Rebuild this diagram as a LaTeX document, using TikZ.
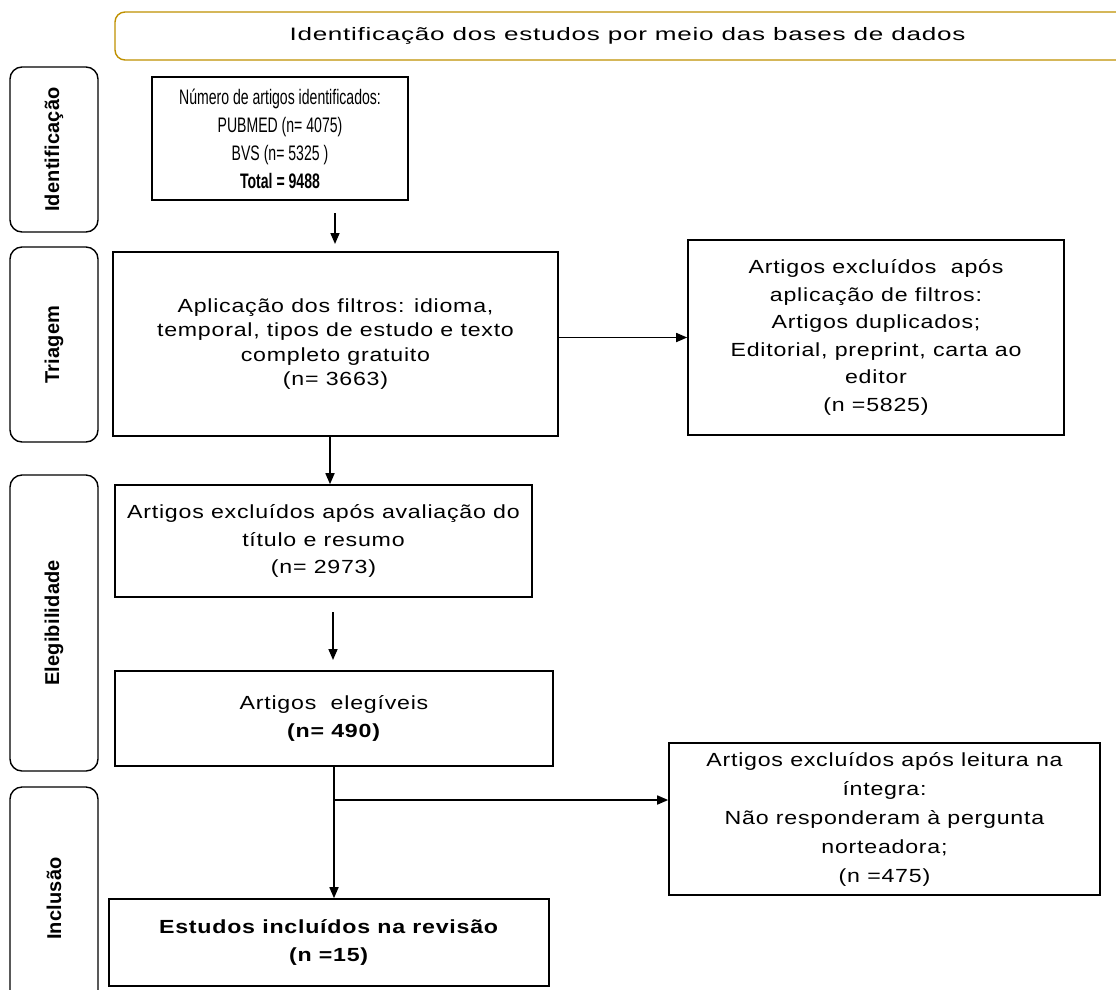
\documentclass[tikz,border=0pt]{standalone}
\usepackage{fontspec}
\setmainfont{Liberation Sans}[FakeStretch=1.22,LetterSpace=4]
\newfontfamily\narrowfont{Liberation Sans}[FakeStretch=0.67]
\newfontfamily\titlefont{Liberation Sans}[FakeStretch=1.45,LetterSpace=4]
\newfontfamily\sidefont{Liberation Sans}[LetterSpace=1]
\usetikzlibrary{positioning,arrows.meta}
\definecolor{Gold}{RGB}{191,144,0}

\begin{document}
\begin{tikzpicture}[x=1pt,y=-1pt,
  box/.style={draw,line width=1.6pt,align=center,inner sep=0pt,font=\fontsize{19}{27.5}\selectfont},
  side/.style={draw,line width=1.4pt,rounded corners=12pt,rotate=90,minimum height=88pt,inner sep=0pt,font=\sidefont\bfseries\fontsize{20}{22}\selectfont},
  arr/.style={-{Triangle[length=11pt,width=9pt]},line width=1.6pt}]
\useasboundingbox (0,0) rectangle (1116,989);

% title bar and stage labels
\node[draw=Gold,line width=1.4pt,rounded corners=10pt,minimum width=1025pt,minimum height=48pt,
  font=\titlefont\fontsize{18}{20}\selectfont] (title) at (627.5,36) {Identificação dos estudos por meio das bases de dados};
\node[side,minimum width=165pt] (sident) at (54,149.5) {Identificação};
\node[side,minimum width=195pt] (striag) at (54,344.5) {Triagem};
\node[side,minimum width=296pt] (seleg) at (54,623) {Elegibilidade};
\node[side,minimum width=223pt] (sincl) at (54,898.5) {Inclusão};

% boxes
\node[box,minimum width=256pt,minimum height=123pt,font=\narrowfont\fontsize{21}{28}\selectfont] (ident) at (280,138.5)
  {Número de artigos identificados:\\PUBMED (n= 4075)\\BVS (n= 5325 )\\\textbf{Total = 9488}};
\node[box,minimum width=445pt,minimum height=184pt,font=\fontsize{19}{24.5}\selectfont] (filt) at (335.5,344)
  {Aplicação dos filtros: idioma,\\temporal, tipos de estudo e texto\\completo gratuito\\(n= 3663)};
\node[box,minimum width=376pt,minimum height=195pt] (excl1) at (876,337.5)
  {Artigos excluídos\ \ após\\aplicação de filtros:\\Artigos duplicados;\\Editorial, preprint, carta ao\\editor\\(n =5825)};
\node[box,minimum width=417pt,minimum height=112pt] (titres) at (323.5,541)
  {Artigos excluídos após avaliação do\\título e resumo\\(n= 2973)};
\node[box,minimum width=438pt,minimum height=95pt] (eleg) at (334,718.5)
  {Artigos\ \ elegíveis\\\textbf{(n= 490)}};
\node[box,minimum width=431pt,minimum height=152pt,font=\fontsize{19}{29}\selectfont] (excl2) at (884.5,819)
  {Artigos excluídos após leitura na\\íntegra:\\Não responderam à pergunta\\norteadora;\\(n =475)};
\node[box,minimum width=440pt,minimum height=87pt] (incl) at (329,942.5)
  {\textbf{Estudos incluídos na revisão}\\\textbf{(n =15)}};

% connectors
\coordinate (a1) at (335,213);
\coordinate (a1e) at (335,244);
\coordinate (a3) at (333,612);
\coordinate (a3e) at (333,660);
\coordinate (br) at (334,800);
\draw[arr] (a1) -- (a1e);
\draw[arr] (excl1.west -| filt.east) -- (excl1.west);
\draw[arr] (filt.south -| 330,0) -- (titres.north -| 330,0);
\draw[arr] (a3) -- (a3e);
\draw[arr] (eleg.south -| br) -- (incl.north -| br);
\draw[arr] (br) -- (br -| excl2.west);
\end{tikzpicture}
\end{document}
